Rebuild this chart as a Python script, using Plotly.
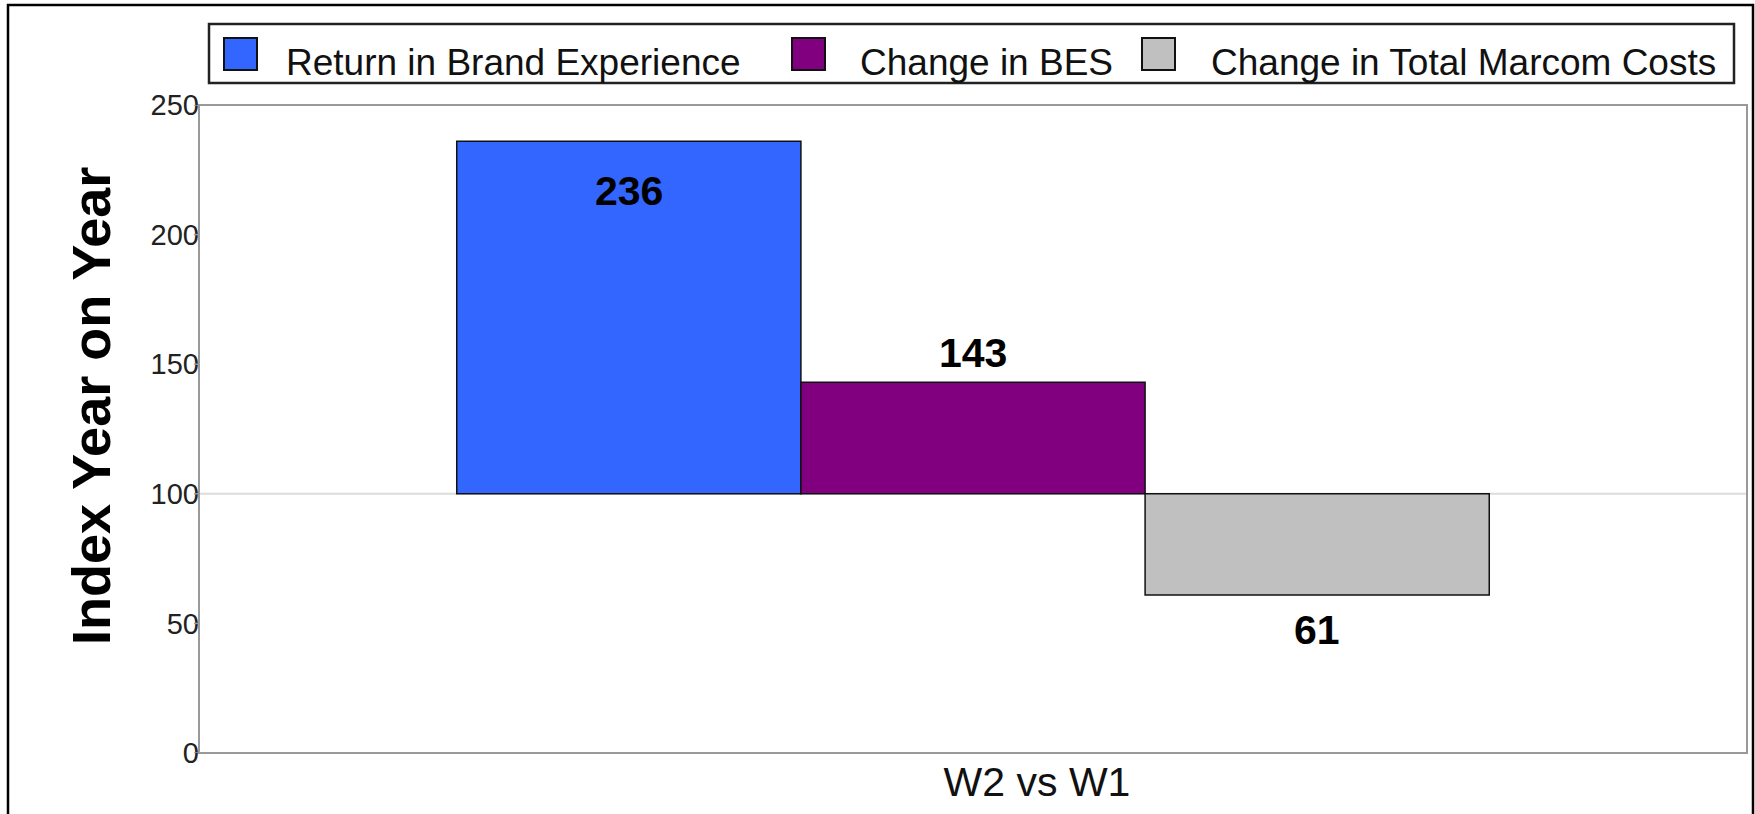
import plotly.graph_objects as go

# ---- data -------------------------------------------------------------
categories = ["W2 vs W1"]
series_names = ["Return in Brand Experience", "Change in BES", "Change in Total Marcom Costs"]
series_values = [236, 143, 61]
series_colors = ["#3366FF", "#800080", "#C0C0C0"]
y_ticks = [0, 50, 100, 150, 200, 250]
BASELINE = 100          # index value meaning "no change"
y_title = "Index Year on Year"

# ---- layout geometry (pixels) -----------------------------------------
W, H = 1755, 814
PL, PR, PT, PB = 199, 1747, 105, 753
BARGAP = 0.333
FONT = "Liberation Sans, Arial, sans-serif"


def px_x(px):
    return (px - PL) / (PR - PL)


def px_y(py):
    return (PB - py) / (PB - PT)


fig = go.Figure()

n = len(series_values)
for name, val, col in zip(series_names, series_values, series_colors):
    fig.add_trace(go.Bar(
        x=categories,
        y=[val - BASELINE],
        base=BASELINE,
        name=name,
        marker=dict(color=col, line=dict(color="#111111", width=1.5)),
        showlegend=False,
        hoverinfo="skip",
    ))

# value labels, placed relative to each bar's end
bar_w = (1 - BARGAP) / n
label_shift = [-50, 29, -35]
for i, (val, dy) in enumerate(zip(series_values, label_shift)):
    fig.add_annotation(
        x=(i - (n - 1) / 2) * bar_w, xref="x",
        y=val, yref="y", yshift=dy,
        text=f"<b>{val}</b>", showarrow=False,
        xanchor="center", yanchor="middle",
        font=dict(family=FONT, size=41, color="#000000"),
    )

shapes = []
# reference line at the baseline index
shapes.append(dict(type="line", xref="paper", yref="y", x0=0, x1=1,
                   y0=BASELINE, y1=BASELINE, layer="below",
                   line=dict(color="#DCDCDC", width=2)))
# plot-area frame
shapes.append(dict(type="rect", xref="paper", yref="paper",
                   x0=0, x1=1, y0=0, y1=1,
                   line=dict(color="#999999", width=2), fillcolor="rgba(0,0,0,0)"))
# small tick stubs on the left edge
for t in y_ticks:
    shapes.append(dict(type="line", xref="paper", yref="y",
                       x0=px_x(PL - 5), x1=0, y0=t, y1=t,
                       line=dict(color="#999999", width=1.5)))
# outer frame
shapes.append(dict(type="rect", xref="paper", yref="paper",
                   x0=px_x(8), x1=px_x(1753), y0=px_y(830), y1=px_y(5),
                   line=dict(color="#000000", width=2.5), fillcolor="rgba(0,0,0,0)"))
# legend box
shapes.append(dict(type="rect", xref="paper", yref="paper",
                   x0=px_x(209), x1=px_x(1734), y0=px_y(83), y1=px_y(24),
                   line=dict(color="#222222", width=2.5), fillcolor="#FFFFFF"))

# legend entries
swatch_x = [224, 792, 1142]
text_x = [284, 858, 1209]
for name, col, sx, tx in zip(series_names, series_colors, swatch_x, text_x):
    shapes.append(dict(type="rect", xref="paper", yref="paper",
                       x0=px_x(sx), x1=px_x(sx + 33), y0=px_y(70), y1=px_y(38),
                       line=dict(color="#111111", width=2), fillcolor=col))
    fig.add_annotation(
        x=px_x(tx), xref="paper", y=px_y(62), yref="paper",
        text=name, showarrow=False, xanchor="left", yanchor="middle",
        font=dict(family=FONT, size=37, color="#111111"),
    )

# y axis title
fig.add_annotation(
    x=px_x(91), xref="paper", y=px_y(406), yref="paper",
    text=f"<b>{y_title}</b>", showarrow=False, textangle=-90,
    xanchor="center", yanchor="middle",
    font=dict(family=FONT, size=54, color="#000000"),
)

fig.update_layout(
    width=W, height=H,
    margin=dict(l=PL, r=W - PR, t=PT, b=H - PB, pad=0, autoexpand=False),
    paper_bgcolor="#FFFFFF", plot_bgcolor="#FFFFFF",
    barmode="group", bargap=BARGAP, bargroupgap=0,
    shapes=shapes,
    font=dict(family=FONT, color="#111111"),
)

fig.update_xaxes(
    type="category", automargin=False,
    showline=False, showgrid=False, ticks="",
    tickfont=dict(family=FONT, size=41, color="#111111"),
    ticklabelshift=64, ticklabelstandoff=1,
)
# tick labels sit right against the frame's left edge
fig.update_yaxes(
    range=[0, 250], tickvals=y_ticks, automargin=False,
    anchor="free", position=0,
    showline=False, showgrid=False, zeroline=False,
    ticks="",
    tickfont=dict(family=FONT, size=29, color="#222222"),
)

fig.write_html("out.html")
